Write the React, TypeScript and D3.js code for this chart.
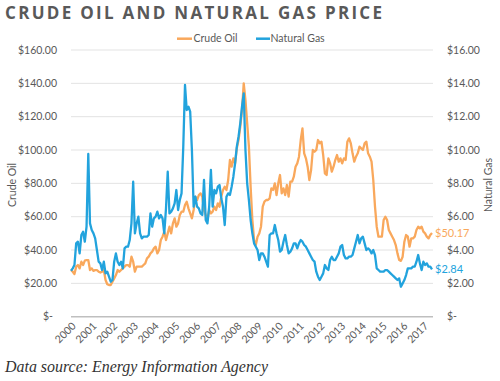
import React from "react";
import * as d3 from "d3";

const years = ["2000","2001","2002","2003","2004","2005","2006","2007","2008","2009","2010","2011","2012","2013","2014","2015","2016","2017"];

// Monthly values, Jan 2000 onward
const crudeOil = [
  28,27,25.6,30,31,29,33,31,33.6,34,34,28,
  29,27.5,28,28,27,26.5,27,28,22,19.5,19,19,
  21,23,25,28,27,28,29,30,31,31,30,36,
  33,27,30,30,30,30,31,32,35,36,38,39,
  41,42,38,40,46,48,51,46,50,54,50,56,
  59,54,56,61,63,63,67,69,65,62,59,64,
  72,70,73,74,72,64,61,58,64,62,63,
  66,64,68,66,72,76,78,76,82,94,90,95,
  92,101,106,114,124,140,130,116,102,78,58,46,
  43,48,50,54,66,69,70,70,71,77,76,80,
  73,80,85,74,77,73,79,72,81,81,84,90,
  92,96,106,113,98,95,90,82,88,100,99,100,
  106,104,105,97,86,85,95,92,87,90,94,97,
  93,95,92,95,94,105,107,104,98,93,96,98,
  102,101,100,104,105,98,96,93,82,66,54,48,
  48,48,58,60,58,52,50,48,46,43,38,34,
  33.5,36,45,49,48,42,47,47,48,52,54,53,
  54,51,50,48,47,49,50.17
];

const naturalGas = [
  2.76,2.9,3.1,4.4,4.5,3.8,4.9,5.1,4.5,5.4,9.76,5.6,
  5.2,5.0,4.7,4.0,3.3,3.2,2.8,3.3,2.6,2.7,2.4,2.1,
  2.2,3.3,3.8,3.3,3.1,3.3,2.9,4.1,4.2,4.2,4.6,5.6,
  8.1,5.0,5.6,6.0,5.0,4.7,4.8,4.8,4.8,4.9,6.2,5.4,
  5.9,6.0,6.3,5.9,6.1,5.9,5.0,6.5,8.7,6.2,6.3,6.5,
  6.8,7.6,6.4,7.0,7.4,10.2,13.9,12.4,12.6,12.3,10.0,6.6,
  7.2,6.6,6.5,6.2,6.1,8.2,5.8,5.6,6.6,8.8,6.6,7.6,
  7.4,7.8,7.9,7.1,6.6,5.5,7.2,7.4,7.3,7.8,8.4,9.2,
  10.2,10.8,11.6,12.6,13.4,10.0,8.0,7.0,5.8,5.0,4.4,4.2,
  4.0,3.4,3.8,3.8,3.6,3.3,3.0,4.9,5.0,5.0,5.5,5.0,
  4.6,3.9,4.0,4.5,4.9,4.3,3.8,3.9,4.1,4.4,4.4,4.1,
  4.4,4.6,4.5,4.3,4.2,4.0,3.8,3.6,3.4,3.3,2.7,2.4,
  2.2,2.4,2.6,3.1,2.9,2.8,3.4,3.6,3.4,3.4,3.6,3.8,
  4.2,4.3,3.7,3.5,3.5,3.6,3.6,3.7,4.1,4.5,4.9,4.4,
  4.7,4.8,4.4,4.0,4.1,4.0,3.8,4.0,3.7,2.9,2.8,2.7,
  2.7,2.7,2.8,2.8,2.7,2.6,2.5,2.4,2.3,2.2,2.3,1.8,
  2.0,2.2,2.5,2.9,2.9,2.9,3.0,3.0,3.3,3.7,3.2,2.8,
  3.3,3.1,3.2,3.0,3.0,2.84
];

const oilTicks = [0,20,40,60,80,100,120,140,160];
const gasTicks = [0,2,4,6,8,10,12,14,16];
const seriesNames = ["Crude Oil","Natural Gas"];
const lastOilLabel = "$50.17";
const lastGasLabel = "$2.84";

const ORANGE = "#F9A85C";
const BLUE = "#22A3DD";
const TXT = "#595959";
const FONT = "Lato, 'Open Sans', sans-serif";

export default function App() {
  const nO = crudeOil.length;
  const nG = naturalGas.length;
  const x = d3.scaleLinear().domain([0, 209]).range([71, 432]);
  const yL = d3.scaleLinear().domain([0, 160]).range([316.7, 50]);
  const yR = d3.scaleLinear().domain([0, 16]).range([316.7, 50]);

  const oilLine = d3.line<number>().x((_, i) => x(i)).y((d) => yL(d));
  const gasLine = d3.line<number>().x((_, i) => x(i)).y((d) => yR(d));

  const fmt = (v: number) => (v === 0 ? "$-" : "$" + v.toFixed(2));

  return (
    <svg width={500} height={381} style={{ position: "absolute", left: 0, top: 0, background: "#fff" }}>
      <text x={5} y={18.5} fontFamily="'Open Sans', sans-serif" fontWeight={700} fontSize={17}
        fill={TXT} textLength={377} lengthAdjust="spacing">CRUDE OIL AND NATURAL GAS PRICE</text>

      {/* legend */}
      <line x1={177} x2={192} y1={38.7} y2={38.7} stroke={ORANGE} strokeWidth={2.5} />
      <text x={193.5} y={38.7} dy="0.35em" fontFamily={FONT} fontSize={10.5} fill={TXT}>{seriesNames[0]}</text>
      <line x1={256} x2={270} y1={38.7} y2={38.7} stroke={BLUE} strokeWidth={2.5} />
      <text x={270.5} y={38.7} dy="0.35em" fontFamily={FONT} fontSize={10.5} fill={TXT}>{seriesNames[1]}</text>

      {/* gridlines */}
      {oilTicks.filter((t) => t > 0).map((t) => (
        <line key={"g" + t} x1={71} x2={433} y1={yL(t)} y2={yL(t)} stroke="#e3e3e3" strokeWidth={1} />
      ))}

      {/* left ticks */}
      {oilTicks.map((t) => (
        <text key={"l" + t} x={t === 0 ? 53 : 57} y={yL(t)} dy="0.35em" textAnchor="end"
          fontFamily={FONT} fontSize={10.5} fill={TXT}>{fmt(t)}</text>
      ))}
      {/* right ticks */}
      {gasTicks.map((t) => (
        <text key={"r" + t} x={447} y={yR(t)} dy="0.35em" textAnchor="start"
          fontFamily={FONT} fontSize={10.5} fill={TXT}>{fmt(t)}</text>
      ))}

      {/* axis titles */}
      <text transform="translate(16,185) rotate(-90)" textAnchor="middle" fontFamily={FONT}
        fontSize={10.5} fill={TXT}>Crude Oil</text>
      <text transform="translate(492,185) rotate(-90)" textAnchor="middle" fontFamily={FONT}
        fontSize={10.5} fill={TXT}>Natural Gas</text>

      {/* x axis */}
      <line x1={71} x2={433} y1={316.7} y2={316.7} stroke="#bfbfbf" strokeWidth={1.5} />
      {years.map((yr, i) => {
        const xx = x(i * 12);
        return (
          <text key={yr} transform={`translate(${xx + 3},${324}) rotate(-45)`} textAnchor="end"
            dy="0.35em" fontFamily={FONT} fontSize={10.5} fill={TXT}>{yr}</text>
        );
      })}

      {/* series */}
      <path d={oilLine(crudeOil) || ""} fill="none" stroke={ORANGE} strokeWidth={2.3} strokeLinejoin="round" />
      <path d={gasLine(naturalGas) || ""} fill="none" stroke={BLUE} strokeWidth={2.3} strokeLinejoin="round" />

      {/* end labels */}
      <text x={x(nO - 1) + 3} y={yL(crudeOil[nO - 1])} dy="0.35em" fontFamily={FONT} fontSize={11}
        fill={ORANGE}>{lastOilLabel}</text>
      <text x={x(nG - 1) + 3} y={yR(naturalGas[nG - 1])} dy="0.35em" fontFamily={FONT} fontSize={11}
        fill={BLUE}>{lastGasLabel}</text>

      {/* footer */}
      <text x={5} y={372} fontFamily="'Liberation Serif', 'DejaVu Serif', serif" fontStyle="italic"
        fontSize={16} fill="#333" textLength={263} lengthAdjust="spacingAndGlyphs">Data source: Energy Information Agency</text>
    </svg>
  );
}
